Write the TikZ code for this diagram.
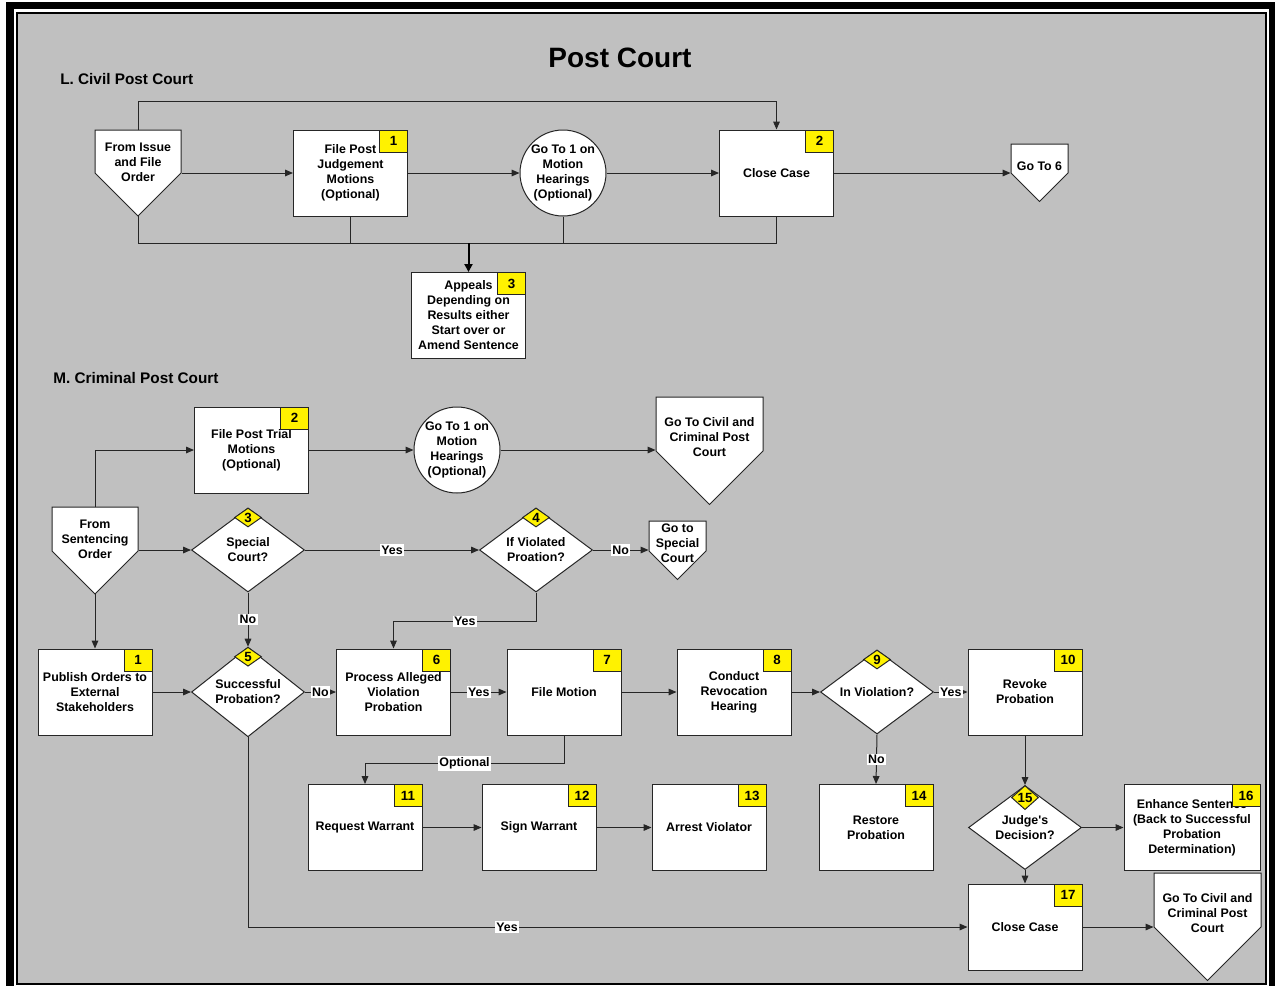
\documentclass[tikz,border=0pt]{standalone}
\usepackage{fontspec}
\setmainfont{Liberation Sans}
\usetikzlibrary{shapes.geometric,arrows.meta,calc}

\definecolor{bggray}{RGB}{192,192,192}

\tikzset{
	every node/.style={font=\bfseries\fontsize{9.3}{11.25}\selectfont, align=center},
	line/.style={draw=black!85, line width=0.75pt},
	arr/.style={line, -{Triangle[length=6pt,width=5pt]}},
	bigarr/.style={draw=black, line width=1.5pt, -{Triangle[length=6pt,width=6pt]}},
	box/.style={rectangle, draw=black!85, line width=0.75pt, fill=white, minimum width=85.5pt, minimum height=64.5pt, inner sep=1pt},
	decision/.style={diamond, draw=black!85, line width=0.75pt, fill=white, minimum width=84.75pt, minimum height=63pt, inner sep=0pt},
	jump/.style={circle, draw=black!85, line width=0.75pt, fill=white, minimum size=64.5pt, inner sep=0pt},
	badge/.style={rectangle, draw=black!85, line width=0.75pt, fill=yellow, minimum width=21pt, minimum height=16.5pt, inner sep=0pt, anchor=north east, font=\bfseries\fontsize{10}{12}\selectfont},
	dbadge/.style={diamond, draw=black!85, line width=0.75pt, fill=yellow, minimum width=20.25pt, minimum height=14.25pt, inner sep=0pt, anchor=north, font=\bfseries\fontsize{10}{12}\selectfont},
	lbl/.style={fill=white, inner sep=1pt},
	offshape/.style={draw=black!85, line width=0.75pt, fill=white},
	offtext/.style={anchor=north, inner sep=0pt},
	heading/.style={anchor=west, inner sep=0pt, font=\bfseries\fontsize{11.5}{14}\selectfont},
}

% name, x, top, width, height of the straight part, text
\newcommand{\offpagenode}[6]{%
	\path[offshape] (#2,#3) node[offtext, minimum width=#4*0.75pt, minimum height={0.74*(#5+#4/2)*0.75pt}] (#1) {#6}
		(#2-#4/2,#3) -- (#2+#4/2,#3) -- (#2+#4/2,#3+#5) -- (#2,#3+#5+#4/2) coordinate (#1-tip) -- (#2-#4/2,#3+#5) -- cycle;}

\begin{document}
\begin{tikzpicture}[x=0.75pt,y=-0.75pt]
	\useasboundingbox (0,0) rectangle (1275,986);
	\fill[white] (0,0) rectangle (1275,986);
	\fill[black] (6,2) rectangle (1275,986);
	\fill[white] (14,9.3) rectangle (1268.7,986);
	\filldraw[fill=bggray, draw=black, line width=1.6pt] (16.7,12.8) rectangle (1266,983.8);

	\node[font=\bfseries\fontsize{21}{25}\selectfont] (title) at (620,58) {Post Court};
	\node[heading] (lhead) at (60,79) {L. Civil Post Court};
	\node[heading] (mhead) at (53,378) {M. Criminal Post Court};

	% civil
	\offpagenode{lfrom}{138}{130}{86}{43}{From Issue\\and File\\Order}
	\node[box] (l1) at (350.5,173) {File Post\\Judgement\\Motions\\(Optional)};
	\node[jump] (lgo1) at (563,173) {Go To 1 on\\Motion\\Hearings\\(Optional)};
	\node[box] (l2) at (776.5,173) {Close Case};
	\offpagenode{lgo6}{1039.5}{144}{57}{29}{Go To 6}
	\node[box] (l3) at (468.5,315.5) {Appeals\\Depending on\\Results either\\Start over or\\Amend Sentence};
	\node[badge] (l1b) at (l1.north east) {1};
	\node[badge] (l2b) at (l2.north east) {2};
	\node[badge] (l3b) at (l3.north east) {3};
	\coordinate (lbus) at (468.5,243);

	\draw[arr] (lfrom.north) -- ++(0,-29) -| (l2.north);
	\draw[arr] (l1.west -| lfrom.east) -- (l1.west);
	\draw[arr] (l1.east) -- (lgo1.west);
	\draw[arr] (lgo1.east) -- (l2.west);
	\draw[arr] (l2.east) -- (l2.east -| lgo6.west);
	\draw[line] (lfrom-tip) |- (lbus);
	\draw[line] (l1.south) |- (lbus);
	\draw[line] (lgo1.south) |- (lbus);
	\draw[line] (l2.south) |- (lbus);
	\draw[bigarr] (lbus) -- (l3.north);

	% criminal
	\node[box] (m2) at (251.5,450) {File Post Trial\\Motions\\(Optional)};
	\node[jump] (mgo1) at (457,450) {Go To 1 on\\Motion\\Hearings\\(Optional)};
	\offpagenode{mciv}{709.5}{397}{107}{54}{Go To Civil and\\Criminal Post\\Court}
	\offpagenode{mfrom}{95}{507}{86}{44}{From\\Sentencing\\Order}
	\node[decision] (m3) at (248,550) {Special\\Court?};
	\node[decision] (m4) at (536,550) {If Violated\\Proation?};
	\offpagenode{mspec}{677.5}{521}{57}{30}{Go to\\Special\\Court}
	\node[box] (m1) at (95,692) {Publish Orders to\\External\\Stakeholders};
	\node[decision] (m5) at (248,692) {Successful\\Probation?};
	\node[box] (m6) at (393.5,692) {Process Alleged\\Violation\\Probation};
	\node[box] (m7) at (564,692) {File Motion};
	\node[box] (m8) at (734,692) {Conduct\\Revocation\\Hearing};
	\node[decision] (m9) at (877,692) {In Violation?};
	\node[box] (m10) at (1025,692) {Revoke\\Probation};
	\node[box] (m11) at (365,827.5) {Request Warrant};
	\node[box] (m12) at (539,827.5) {Sign Warrant};
	\node[box] (m13) at (709,827.5) {Arrest Violator};
	\node[box] (m14) at (876,827.5) {Restore\\Probation};
	\node[decision] (m15) at (1025,827.5) {Judge\textquotesingle s\\Decision?};
	\node[box, minimum width=102pt] (m16) at (1192,827.5) {Enhance Sentence\\(Back to Successful\\Probation\\Determination)};
	\node[box] (m17) at (1025,927) {Close Case};
	\offpagenode{mciv2}{1207.5}{873}{107}{54}{Go To Civil and\\Criminal Post\\Court}

	\node[badge] (m1b) at (m1.north east) {1};
	\node[badge] (m2b) at (m2.north east) {2};
	\node[dbadge] (m3b) at (m3.north) {3};
	\node[dbadge] (m4b) at (m4.north) {4};
	\node[dbadge] (m5b) at (m5.north) {5};
	\node[badge] (m6b) at (m6.north east) {6};
	\node[badge] (m7b) at (m7.north east) {7};
	\node[badge] (m8b) at (m8.north east) {8};
	\node[dbadge] (m9b) at (m9.north) {9};
	\node[badge] (m10b) at (m10.north east) {10};
	\node[badge] (m11b) at (m11.north east) {11};
	\node[badge] (m12b) at (m12.north east) {12};
	\node[badge] (m13b) at (m13.north east) {13};
	\node[badge] (m14b) at (m14.north east) {14};
	\node[dbadge] (m15b) at (m15.north) {15};
	\node[badge] (m16b) at (m16.north east) {16};
	\node[badge] (m17b) at (m17.north east) {17};

	\draw[arr] (mfrom.north) |- (m2.west);
	\draw[arr] (m2.east) -- (mgo1.west);
	\draw[arr] (mgo1.east) -- (mgo1.east -| mciv.west);
	\draw[arr] (m3.west -| mfrom.east) -- (m3.west);
	\draw[arr] (m3.east) -- node[lbl] {Yes} (m4.west);
	\draw[arr] (m4.east) -- node[lbl] {No} (m4.east -| mspec.west);
	\draw[arr] (m4.south) -- ++(0,29) -| node[lbl, pos=0.25] {Yes} (m6.north);
	\draw[arr] (m3.south) -- node[lbl] {No} (m5.north);
	\draw[arr] (mfrom-tip) -- (m1.north);
	\draw[arr] (m1.east) -- (m5.west);
	\draw[arr] (m5.east) -- node[lbl] {No} (m6.west);
	\draw[arr] (m6.east) -- node[lbl] {Yes} (m7.west);
	\draw[arr] (m7.east) -- (m8.west);
	\draw[arr] (m8.east) -- (m9.west);
	\draw[arr] (m9.east) -- node[lbl] {Yes} (m10.west);
	\draw[arr] (m9.south) -- node[lbl] {No} (m14.north);
	\draw[arr] (m7.south) -- ++(0,28) -| node[lbl, pos=0.25] {Optional} (m11.north);
	\draw[arr] (m11.east) -- (m12.west);
	\draw[arr] (m12.east) -- (m13.west);
	\draw[arr] (m10.south) -- (m15.north);
	\draw[arr] (m15.east) -- (m16.west);
	\draw[arr] (m15.south) -- (m17.north);
	\draw[arr] (m5.south) |- node[lbl, pos=0.68] {Yes} (m17.west);
	\draw[arr] (m17.east) -- (m17.east -| mciv2.west);
\end{tikzpicture}
\end{document}
